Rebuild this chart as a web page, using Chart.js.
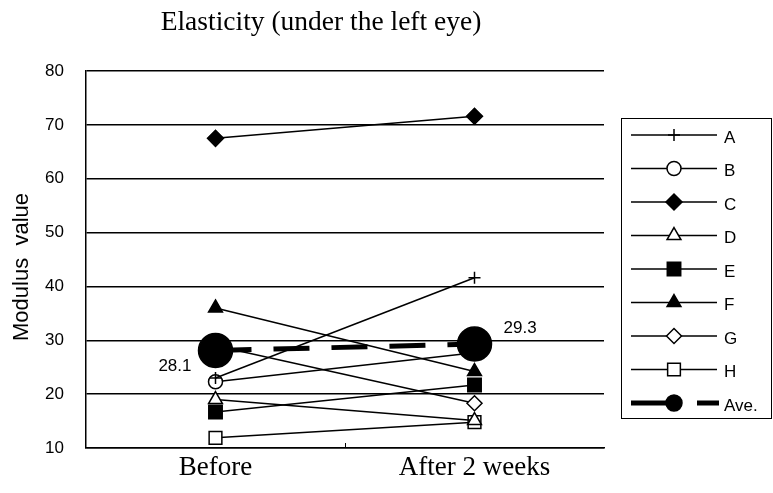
<!DOCTYPE html>
<html><head><meta charset="utf-8">
<script src="https://cdn.jsdelivr.net/npm/chart.js@4/dist/chart.umd.min.js"></script>
<style>html,body{margin:0;padding:0;background:#fff}</style>
</head><body>
<canvas id="c" width="773" height="493"></canvas>
<script>
// ---- data ----
const categories = ['Before', 'After 2 weeks'];
const seriesNames = ['A', 'B', 'C', 'D', 'E', 'F', 'G', 'H', 'Ave.'];
const valuesA = [23.0, 41.6];
const valuesB = [22.3, 27.7];
const valuesC = [67.5, 71.6];
const valuesD = [19.0, 15.1];
const valuesE = [16.7, 21.7];
const valuesF = [36.0, 24.2];
const valuesG = [29.0, 18.3];
const valuesH = [11.9, 14.8];
const valuesAve = [28.1, 29.3];
const aveLabels = ['28.1', '29.3'];
const yMin = 10, yMax = 80, yStep = 10;
const titleText = 'Elasticity (under the left eye)';
const yTitleText = 'Modulus  value';

const SANS = '"Liberation Sans", Arial, sans-serif';
const SERIF = '"Liberation Serif", "Times New Roman", serif';

function mk(label, data, style, radius, filled) {
  return {
    label, data,
    borderColor: '#000', borderWidth: 1.5,
    pointStyle: style, pointRadius: radius, pointHoverRadius: radius,
    pointBorderColor: '#000', pointBorderWidth: 1.5,
    pointBackgroundColor: filled ? '#000' : '#fff',
    tension: 0, fill: false
  };
}
const datasets = [
  mk(seriesNames[0], valuesA, 'cross', 6, false),
  mk(seriesNames[1], valuesB, 'circle', 7, false),
  mk(seriesNames[2], valuesC, 'rectRot', 8, true),
  mk(seriesNames[3], valuesD, 'triangle', 8, false),
  mk(seriesNames[4], valuesE, 'rect', 9.5, true),
  mk(seriesNames[5], valuesF, 'triangle', 8, true),
  mk(seriesNames[6], valuesG, 'rectRot', 7.5, false),
  mk(seriesNames[7], valuesH, 'rect', 9, false),
  Object.assign(mk(seriesNames[8], valuesAve, 'circle', 17, true), {
    borderWidth: 5, borderDash: [36, 22], order: -1, legendRadius: 8
  })
];

const extras = {
  id: 'extras',
  afterDraw(chart) {
    const ctx = chart.ctx;
    const xs = chart.scales.x, ys = chart.scales.y;
    ctx.save();
    // title
    ctx.fillStyle = '#000';
    ctx.font = '27.5px ' + SERIF;
    ctx.textAlign = 'center';
    ctx.textBaseline = 'alphabetic';
    ctx.fillText(titleText, 321, 30);
    // y axis title
    ctx.save();
    ctx.translate(22, 267);
    ctx.rotate(-Math.PI / 2);
    ctx.font = '22px ' + SANS;
    ctx.textAlign = 'center';
    ctx.textBaseline = 'middle';
    ctx.fillText(yTitleText, 0, 0);
    ctx.restore();
    // middle tick on x axis
    const mid = Math.round((xs.getPixelForValue(0) + xs.getPixelForValue(1)) / 2) + 0.5;
    ctx.strokeStyle = '#000'; ctx.lineWidth = 1;
    ctx.beginPath(); ctx.moveTo(mid, ys.bottom); ctx.lineTo(mid, ys.bottom - 5); ctx.stroke();
    // ave labels
    const aveIdx = chart.data.datasets.length - 1;
    const meta = chart.getDatasetMeta(aveIdx);
    ctx.font = '17px ' + SANS;
    ctx.textBaseline = 'middle';
    const p0 = meta.data[0], p1 = meta.data[1];
    ctx.textAlign = 'right'; ctx.fillText(aveLabels[0], p0.x - 24, p0.y + 16);
    ctx.textAlign = 'left'; ctx.fillText(aveLabels[1], p1.x + 29, p1.y - 16);
    // legend
    const bx = 621.5, by = 118.5, bw = 150, bh = 300;
    ctx.lineWidth = 1; ctx.strokeStyle = '#000';
    ctx.strokeRect(bx, by, bw, bh);
    const lx0 = 631, lx1 = 717, mx = 674, tx = 724;
    chart.data.datasets.forEach((ds, i) => {
      const y = 135 + i * 33.5;
      ctx.strokeStyle = '#000';
      ctx.lineWidth = ds.borderWidth;
      ctx.setLineDash([]);
      ctx.beginPath();
      if (ds.borderDash) {
        ctx.moveTo(lx0, y); ctx.lineTo(mx + 7, y);
        ctx.moveTo(697, y); ctx.lineTo(719, y);
      } else {
        ctx.moveTo(lx0, y); ctx.lineTo(lx1, y);
      }
      ctx.stroke();
      ctx.fillStyle = ds.pointBackgroundColor;
      ctx.strokeStyle = ds.pointBorderColor;
      ctx.lineWidth = ds.pointBorderWidth;
      Chart.helpers.drawPoint(ctx, {
        pointStyle: ds.pointStyle,
        radius: ds.legendRadius || ds.pointRadius,
        borderWidth: ds.pointBorderWidth,
        rotation: 0
      }, mx, y);
      ctx.fillStyle = '#000';
      ctx.font = '17px ' + SANS;
      ctx.textAlign = 'left';
      ctx.textBaseline = 'middle';
      ctx.fillText(ds.label, tx, y + 3);
    });
    ctx.restore();
  }
};

new Chart(document.getElementById('c'), {
  type: 'line',
  data: { labels: categories, datasets },
  options: {
    responsive: false,
    devicePixelRatio: 1,
    animation: false,
    layout: { padding: { top: 71, right: 169, left: 0, bottom: 0 } },
    plugins: { legend: { display: false }, tooltip: { enabled: false }, title: { display: false } },
    scales: {
      x: {
        type: 'category',
        offset: true,
        grid: { display: false, drawTicks: false },
        border: { display: true, color: '#000', width: 1.5 },
        ticks: { color: '#000', font: { family: SERIF, size: 27 }, padding: 4, maxRotation: 0 },
        afterFit: s => { s.height = 45; }
      },
      y: {
        type: 'linear',
        min: yMin, max: yMax,
        ticks: { stepSize: yStep, color: '#000', font: { family: SANS, size: 17 }, padding: 22 },
        grid: { color: '#000', lineWidth: 1.5, drawTicks: false },
        border: { display: true, color: '#000', width: 1.5 },
        afterFit: s => { s.width = 86; }
      }
    }
  },
  plugins: [extras]
});
</script>
</body></html>
